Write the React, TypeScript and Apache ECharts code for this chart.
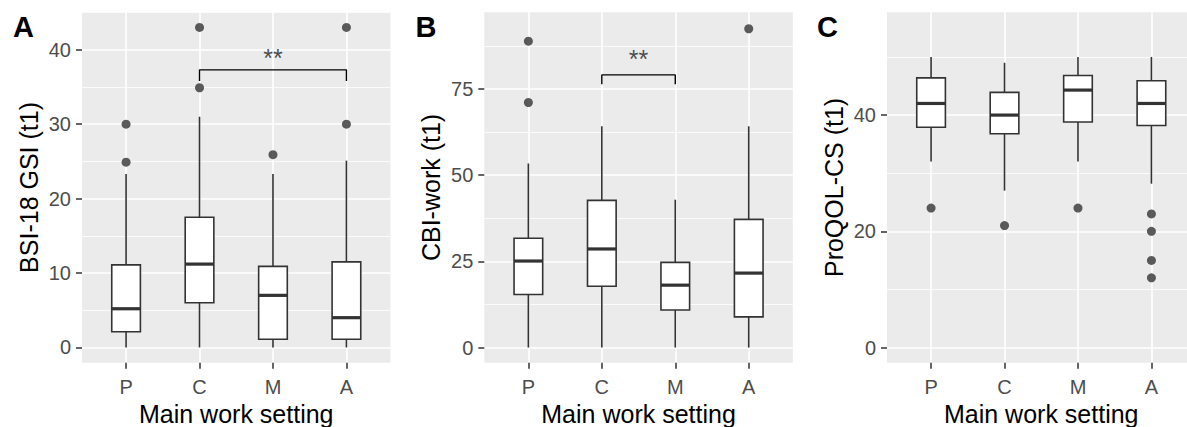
import React, { useEffect, useRef } from "react";
import * as echarts from "echarts";

// ---------- data ----------
const categories = ["P", "C", "M", "A"];

// Panel A: BSI-18 GSI (t1)
const bsiLow = [0, 0, 0, 0];
const bsiQ1 = [2.1, 6.0, 1.1, 1.1];
const bsiMedian = [5.2, 11.2, 7.0, 4.0];
const bsiQ3 = [11.1, 17.5, 10.9, 11.5];
const bsiHigh = [23.3, 31.0, 23.3, 25.1];
const bsiOutlierCat = ["P", "P", "C", "C", "M", "A", "A"];
const bsiOutlierVal = [30, 24.9, 34.9, 43, 25.9, 30, 43];
const bsiTicks = [0, 10, 20, 30, 40];
const bsiMinor = [5, 15, 25, 35, 45];

// Panel B: CBI-work (t1)
const cbiLow = [0, 0, 0, 0];
const cbiQ1 = [15.4, 17.8, 10.9, 8.9];
const cbiMedian = [25.1, 28.6, 18.1, 21.6];
const cbiQ3 = [31.7, 42.7, 24.7, 37.2];
const cbiHigh = [53.4, 64.2, 42.9, 64.2];
const cbiOutlierCat = ["P", "P", "A"];
const cbiOutlierVal = [88.9, 71.1, 92.5];
const cbiTicks = [0, 25, 50, 75];
const cbiMinor = [12.5, 37.5, 62.5, 87.5];

// Panel C: ProQOL-CS (t1)
const proLow = [32, 27, 32, 28.2];
const proQ1 = [37.9, 36.8, 38.8, 38.2];
const proMedian = [42, 40, 44.3, 42];
const proQ3 = [46.4, 43.9, 46.8, 45.9];
const proHigh = [50, 49, 50, 50];
const proOutlierCat = ["P", "C", "M", "A", "A", "A", "A"];
const proOutlierVal = [24, 21, 24, 23, 20, 15, 12];
const proTicks = [0, 20, 40];
const proMinor = [10, 30, 50];

// significance brackets
const bsiSig = { from: "C", to: "A", y: 37.3, tip: 35.8, label: "**", labelY: 38.9 };
const cbiSig = { from: "C", to: "M", y: 79.1, tip: 76.4, label: "**", labelY: 83.6 };

const panels = [
  {
    letter: "A", title: "BSI-18 GSI (t1)", low: bsiLow, q1: bsiQ1, med: bsiMedian, q3: bsiQ3, high: bsiHigh,
    oCat: bsiOutlierCat, oVal: bsiOutlierVal, ticks: bsiTicks, minor: bsiMinor, min: -2.05, max: 45.05, sig: bsiSig,
  },
  {
    letter: "B", title: "CBI-work (t1)", low: cbiLow, q1: cbiQ1, med: cbiMedian, q3: cbiQ3, high: cbiHigh,
    oCat: cbiOutlierCat, oVal: cbiOutlierVal, ticks: cbiTicks, minor: cbiMinor, min: -4.4, max: 97.3, sig: cbiSig,
  },
  {
    letter: "C", title: "ProQOL-CS (t1)", low: proLow, q1: proQ1, med: proMedian, q3: proQ3, high: proHigh,
    oCat: proOutlierCat, oVal: proOutlierVal, ticks: proTicks, minor: proMinor, min: -2.6, max: 57.7, sig: null as any,
  },
];

// ---------- layout ----------
const gridLefts = [82, 484.3, 887];
const gridWidth = 308.5;
const gridTop = 12.2;
const gridHeight = 350.5;
const letterX = [13, 415.5, 817];
const FONT = "'Liberation Sans', Arial, sans-serif";
const catIndex = (c: string) => categories.indexOf(c) + 1;
const catVals = categories.map((_, i) => i + 1);

export default function App() {
  const ref = useRef<HTMLDivElement>(null);
  useEffect(() => {
    document.body.style.margin = "0";
    if (!ref.current) return;
    const chart = echarts.init(ref.current, null, { renderer: "svg" });

    const grid = panels.map((_, i) => ({
      left: gridLefts[i], top: gridTop, width: gridWidth, height: gridHeight,
      show: true, backgroundColor: "#EBEBEB", borderWidth: 0,
      containLabel: false, outerBoundsMode: "none",
    }));

    const xAxis = panels.map((_, i) => ({
      type: "value", gridIndex: i, min: 0.4, max: 4.6, position: "bottom",
      axisLine: { show: false, onZero: false },
      axisTick: { show: true, length: 6, customValues: catVals, lineStyle: { color: "#333333", width: 1.5 } },
      axisLabel: {
        customValues: catVals, margin: 14, fontSize: 20, color: "#4D4D4D", fontFamily: FONT,
        formatter: (v: number) => categories[Math.round(v) - 1] ?? "",
      },
      splitLine: { show: true, lineStyle: { color: "#FFFFFF", width: 1.6 } },
      name: "Main work setting", nameLocation: "middle", nameGap: 38,
      nameTextStyle: { fontSize: 25, color: "#000000", fontFamily: FONT },
    }));

    const yMajor = panels.map((p, i) => ({
      type: "value", gridIndex: i, min: p.min, max: p.max, position: "left",
      axisLine: { show: false, onZero: false },
      axisTick: { show: true, length: 6, customValues: p.ticks, lineStyle: { color: "#333333", width: 1.5 } },
      axisLabel: { customValues: p.ticks, margin: 11, fontSize: 20, color: "#4D4D4D", fontFamily: FONT },
      splitLine: { show: true, lineStyle: { color: "#FFFFFF", width: 1.6 } },
      name: p.title, nameLocation: "middle", nameGap: 41, nameRotate: 90,
      nameTextStyle: { fontSize: 25, color: "#000000", fontFamily: FONT },
    }));
    const yMinor = panels.map((p, i) => ({
      type: "value", gridIndex: i, min: p.min, max: p.max, position: "left",
      axisLine: { show: false, onZero: false },
      axisTick: { show: false, customValues: p.minor },
      axisLabel: { show: false, customValues: p.minor },
      splitLine: { show: true, lineStyle: { color: "#FFFFFF", width: 0.8 } },
    }));

    const series: any[] = [];
    panels.forEach((p, i) => {
      const boxData = categories.map((_, k) => [k + 1, p.low[k], p.q1[k], p.med[k], p.q3[k], p.high[k]]);
      series.push({
        type: "custom", xAxisIndex: i, yAxisIndex: i, z: 5,
        encode: { x: 0, y: [1, 2, 3, 4, 5] },
        data: boxData,
        renderItem: (_params: any, api: any) => {
          const x = api.value(0);
          const lo = api.coord([x, api.value(1)]);
          const q1 = api.coord([x, api.value(2)]);
          const md = api.coord([x, api.value(3)]);
          const q3 = api.coord([x, api.value(4)]);
          const hi = api.coord([x, api.value(5)]);
          const hw = api.size([0.39, 0])[0] / 2;
          const cx = lo[0];
          const ls = { stroke: "#333333", lineWidth: 1.6 };
          return {
            type: "group",
            children: [
              { type: "line", shape: { x1: cx, y1: hi[1], x2: cx, y2: q3[1] }, style: ls },
              { type: "line", shape: { x1: cx, y1: q1[1], x2: cx, y2: lo[1] }, style: ls },
              {
                type: "rect", shape: { x: cx - hw, y: q3[1], width: 2 * hw, height: q1[1] - q3[1] },
                style: { fill: "#FFFFFF", stroke: "#333333", lineWidth: 1.6 },
              },
              { type: "line", shape: { x1: cx - hw, y1: md[1], x2: cx + hw, y2: md[1] }, style: { stroke: "#333333", lineWidth: 3.2 } },
            ],
          };
        },
      });
      series.push({
        type: "scatter", xAxisIndex: i, yAxisIndex: i, z: 6,
        symbolSize: 9, itemStyle: { color: "#333333" },
        data: p.oCat.map((c: string, k: number) => [catIndex(c), p.oVal[k]]),
      });
      if (p.sig) {
        const a = catIndex(p.sig.from), b = catIndex(p.sig.to);
        series.push({
          type: "line", xAxisIndex: i, yAxisIndex: i, z: 6, symbol: "none",
          lineStyle: { color: "#000000", width: 1.4 },
          data: [[a, p.sig.tip], [a, p.sig.y], [b, p.sig.y], [b, p.sig.tip]],
        });
        series.push({
          type: "scatter", xAxisIndex: i, yAxisIndex: i, z: 7, symbolSize: 1,
          itemStyle: { color: "rgba(0,0,0,0)" },
          label: { show: true, position: "inside", formatter: p.sig.label, fontSize: 25, color: "#222222", fontFamily: FONT },
          data: [[(a + b) / 2, p.sig.labelY]],
        });
      }
    });

    const graphic = panels.map((p, i) => ({
      type: "text", left: letterX[i], top: 12,
      style: { text: p.letter, fontSize: 29, fontWeight: "bold", fill: "#000000", fontFamily: FONT },
    }));

    chart.setOption({
      animation: false,
      grid,
      xAxis,
      yAxis: [...yMajor, ...yMinor],
      series,
      graphic,
    } as any);
    return () => chart.dispose();
  }, []);
  return <div ref={ref} style={{ width: 1187, height: 427 }} />;
}
